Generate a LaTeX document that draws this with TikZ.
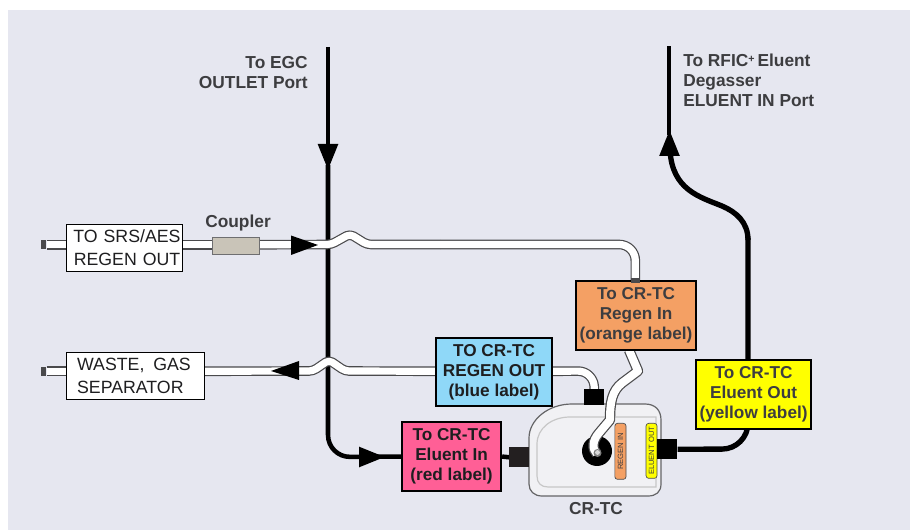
\documentclass[tikz,border=0pt]{standalone}
\usepackage{fontspec}
\setmainfont{Liberation Sans}
\usetikzlibrary{arrows.meta}
\definecolor{panel}{HTML}{E6E7F0}
\definecolor{tubeedge}{HTML}{4A4A4C}
\definecolor{txt}{HTML}{3D3D40}
\definecolor{dark}{HTML}{1E1E20}
\definecolor{lorange}{HTML}{F4A064}
\definecolor{lblue}{HTML}{8FD8F8}
\definecolor{lred}{HTML}{FF5F96}
\definecolor{lyellow}{HTML}{FFFF00}
\definecolor{couplerfill}{HTML}{C9C4B8}
\definecolor{bodyfill}{HTML}{F1F1F4}
\definecolor{blockc}{HTML}{231F20}
\def\px{0.75pt}
\pgfdeclarelayer{under}
\pgfdeclarelayer{wires}
\pgfsetlayers{under,wires,main}
\tikzset{
  x=0.75pt,y=-0.75pt,
  tube/.style={draw=tubeedge,double=white,line width=0.9pt,double distance=5.4pt,line join=round},
  widetube/.style={draw=tubeedge,double=white,line width=0.9pt,double distance=6pt,line join=round},
  eluent/.style={draw=black,line width=3.4pt},
  labelbox/.style={draw=black,line width=1.6pt,font=\fontsize{12.9}{15}\selectfont\bfseries,align=center,inner sep=0pt,anchor=north west},
  plainbox/.style={draw=black,line width=0.7pt,fill=white,text=dark,font=\fontsize{13.3}{17.2}\selectfont,align=left,inner sep=0pt,anchor=north west},
  heading/.style={text=txt,font=\fontsize{13}{15}\selectfont\bfseries,inner sep=0pt},
  block/.style={fill=black,inner sep=0pt,anchor=north west},
  tag/.style={draw=tubeedge,line width=0.5pt,rounded corners=2pt,inner sep=0pt,anchor=north west},
  tagtext/.style={font=\fontsize{5.7}{6}\selectfont,text=txt,rotate=90,inner sep=0pt},
  tubeend/.style={fill=tubeedge,inner sep=0pt,anchor=north west},
  bigarrow/.style={-{Triangle[length=19.5pt,width=14.5pt]}},
}
\begin{document}
\begin{tikzpicture}
\useasboundingbox (0,0) rectangle (910,530);

\coordinate (egc) at (328,47);
\coordinate (rfic) at (669,46);

\begin{pgfonlayer}{under}
\fill[white] (0,0) rectangle (910,530);
\fill[panel] (8,10) rectangle (910,530);
% CR-TC body
\draw[fill=bodyfill,draw=tubeedge!85,line width=0.9pt]
  (529,438) .. controls (529,420) and (548,404) .. (572,404) -- (645,404)
  .. controls (655,404) and (661,410) .. (661,420) -- (661,484)
  .. controls (661,492) and (656,496) .. (648,496) -- (542,496)
  .. controls (534,496) and (529,491) .. (529,484) -- cycle;
\draw[draw=black!22,line width=0.9pt]
  (656,487) -- (548,487) .. controls (541,487) and (537,483) .. (537,476) -- (537,444)
  .. controls (537,428) and (552,417) .. (570,417) -- (656,417) -- cycle;
% tags
\node[tag,fill=lorange,minimum width=11.2*\px,minimum height=56*\px] (regentag) at (614.5,423) {};
\node[tagtext] at (regentag.center) {REGEN IN};
\node[tag,fill=lyellow,minimum width=11*\px,minimum height=55*\px] (eluenttag) at (645.7,423) {};
\node[tagtext] at (eluenttag.center) {ELUENT OUT};
% port
\fill[black] (597,451) circle[radius=15];
\end{pgfonlayer}

% blocks
\node[block,minimum width=20*\px,minimum height=20*\px,fill=blockc] (blockin) at (509,447) {};
\node[block,minimum width=20*\px,minimum height=20*\px] (blockout) at (657,439) {};
\node[block,minimum width=20*\px,minimum height=16*\px] (blockregen) at (584,389) {};

% label boxes
\node[labelbox,fill=lorange,text=txt,minimum width=120*\px,minimum height=69*\px] (lorangebox) at (575,280) {To CR-TC\\Regen In\\(orange label)};
\node[labelbox,fill=lblue,text=dark,minimum width=116*\px,minimum height=68*\px] (lbluebox) at (435,337) {TO CR-TC\\REGEN OUT\\(blue label)};
\node[labelbox,fill=lred,text=dark,minimum width=99*\px,minimum height=69*\px] (lredbox) at (401,421) {To CR-TC\\Eluent In\\(red label)};
\node[labelbox,fill=lyellow,text=txt,minimum width=115*\px,minimum height=69*\px] (lyellowbox) at (695,359) {To CR-TC\\Eluent Out\\(yellow label)};

% plain boxes
\node[plainbox,text width=116*\px,minimum height=47*\px] (srsbox) at (66,224) {\hspace*{5.2pt}TO SRS/AES\\\hspace*{5.5pt}REGEN OUT};
\node[plainbox,text width=138*\px,minimum height=47*\px] (wastebox) at (66,352) {\hspace*{8pt}WASTE,\, GAS\\\hspace*{8pt}SEPARATOR};
\node[tubeend,minimum width=5*\px,minimum height=9*\px] (srsend) at (41,240) {};
\node[tubeend,minimum width=5*\px,minimum height=9*\px] (wasteend) at (41,366.5) {};
\node[draw=tubeedge!80,line width=0.7pt,fill=couplerfill,inner sep=0pt,minimum width=47*\px,minimum height=17*\px,anchor=north west] (coupler) at (212,237) {};
\fill[tubeedge] (630.7,278) rectangle (640,283);

\begin{pgfonlayer}{wires}
% eluent line (black)
\draw[eluent] (egc) -- (328,150);
\draw[eluent,bigarrow] (328,140) -- (328,170);
\draw[eluent,rounded corners=22*\px] (328,165) -- (328,457) -- (lredbox.west);
\draw[eluent,bigarrow] (352,457) -- (385,457);
\draw[eluent] (lredbox.east) -- (blockin.west);
\draw[eluent,line width=4pt,rounded corners=26*\px] (blockout.east) -- (748,449) -- (748,238);
\draw[eluent,line width=4pt] (748,240) .. controls (748,222) and (736,212) .. (722,206)
  .. controls (700,197) and (672,190) .. (670,150);
\draw[eluent,bigarrow] (669.5,156) -- (669.5,130);
\draw[eluent] (669,135) -- (rfic);

% regen tubes
\draw[tube] (srsend.east) -- (srsbox.west |- srsend.east);
\draw[tube] (srsbox.east |- srsend.east) -- (coupler.west |- srsend.east);
\draw[tube,rounded corners=3pt] (coupler.east |- srsend.east) -- (331,244.5) -- (350,234) -- (367,244.5) -- (440,244.5);
\draw[tube,rounded corners=12pt] (440,244.5) -- (635.3,244.5) -- (lorangebox.north -| 635.3,0);
\draw[tube] (wasteend.east) -- (wastebox.west |- wasteend.east);
\draw[tube,rounded corners=3pt] (wastebox.east |- wasteend.east) -- (313,371) -- (329,360) -- (345,371) -- (lbluebox.west |- wasteend.east);
\draw[tube,rounded corners=12pt] (lbluebox.east |- wasteend.east) -- (594,371) -- (blockregen.north);
% regen-in tube to port
\draw[widetube] (629,350) -- (638,371) -- (622,383) .. controls (612,391) and (610,402) .. (610,420) -- (599,433)
  .. controls (592,441) and (592,449) .. (597,454);
\fill[black!50] (597.5,453) circle[radius=4];
\fill[black!15] (597.5,452.5) circle[radius=2.4];

% arrows on tubes
\fill[black] (291,235.5) -- (318,245) -- (291,255) -- cycle;
\fill[black] (299,361) -- (271,371) -- (299,380) -- cycle;
\end{pgfonlayer}

% headings
\node[heading,align=right,anchor=north east] (egctext) at (308,56) {To EGC\\OUTLET Port};
\node[heading,align=left,anchor=north west] (rfictext) at (683,54) {To RFIC\raisebox{3pt}{\fontsize{8}{8}\selectfont+}\,Eluent\\Degasser\\ELUENT IN Port};
\node[heading,anchor=center] (couplertext) at (238,223.5) {Coupler};
\node[heading,anchor=center] (crtctext) at (596,509) {CR-TC};
\end{tikzpicture}
\end{document}
